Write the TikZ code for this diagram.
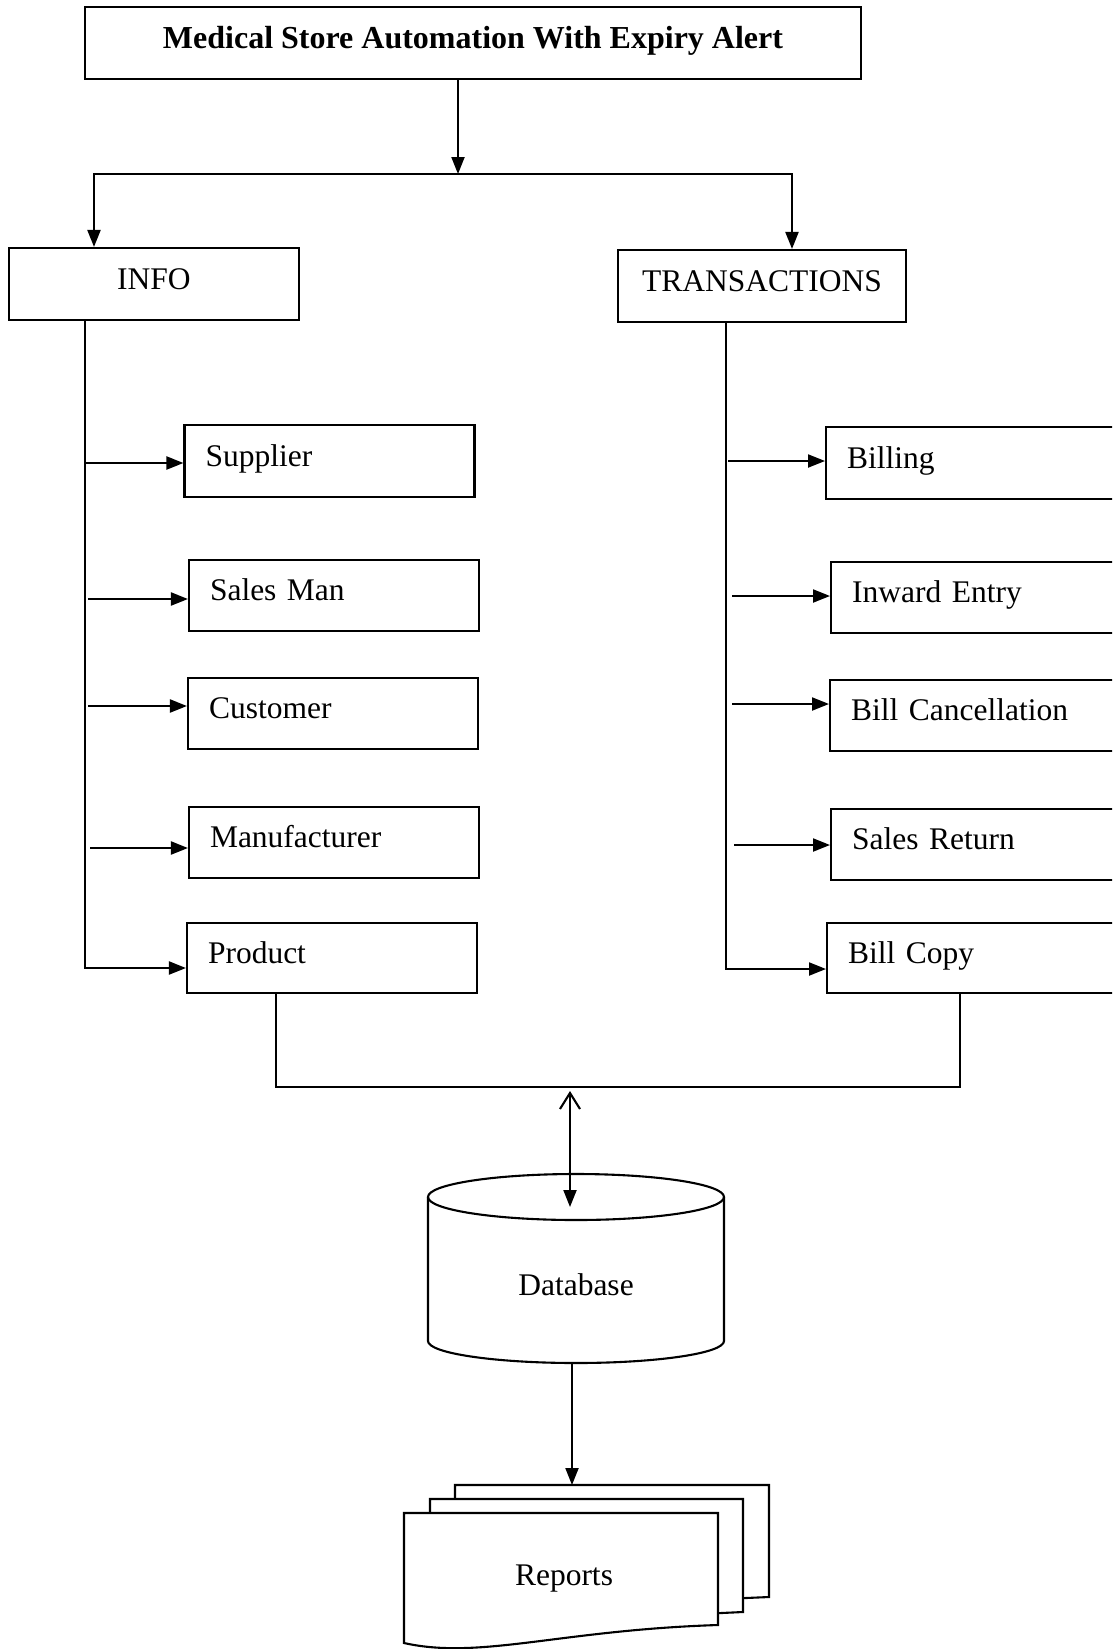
\documentclass[tikz,border=0pt]{standalone}
\usepackage{fontspec}
\setmainfont{Liberation Serif}
\usetikzlibrary{arrows.meta}
\begin{document}
\begin{tikzpicture}[x=1pt,y=-1pt,
  line width=2.1pt,
  every node/.style={font=\fontsize{31.5pt}{36pt}\selectfont},
  arr/.style={-{Triangle[length=17pt,width=13pt]}},
  lbox/.style={draw, rectangle, inner xsep=21pt, inner ysep=0pt, text width=248pt, align=left, minimum height=71pt, text height=24pt, text depth=14pt},
  rbox/.style={lbox, text width=258pt},
  cbox/.style={draw, rectangle, inner sep=0pt, align=center, text height=24pt, text depth=14pt},
  pagefill/.style={draw, fill=white}
]
\useasboundingbox (0,0) rectangle (1112,1649);
\clip (0,0) rectangle (1112,1649);

% title and branches
\node[cbox, minimum width=776pt, minimum height=72pt, font=\fontsize{32pt}{36pt}\selectfont\bfseries] (title) at (473,43) {Medical Store Automation With Expiry Alert};
\node[cbox, minimum width=290pt, minimum height=72pt] (info) at (154,284) {INFO};
\node[cbox, minimum width=288pt, minimum height=72pt] (trans) at (762,286) {TRANSACTIONS};

\coordinate (split) at (458,174);
\coordinate (bl) at (94,174);
\coordinate (br) at (792,174);
\draw[arr] (title.south -| split) -- (split);
\draw[{Triangle[length=17pt,width=13pt]}-{Triangle[length=17pt,width=13pt]}] (bl |- info.north) -- (bl) -- (br) -- (br |- trans.north);

% left boxes
\node[lbox, minimum height=72pt] (supplier) at (329.5,461) {Supplier};
\node[lbox] (salesman) at (334,595.5) {Sales Man};
\node[lbox] (customer) at (333,713.5) {Customer};
\node[lbox] (manuf) at (334,842.5) {Manufacturer};
\node[lbox, minimum height=70pt] (product) at (332,958) {Product};

% right boxes
\node[rbox, anchor=west, minimum height=72pt] (billing) at (825,463) {Billing};
\node[rbox, anchor=west] (inward) at (830,597.5) {Inward Entry};
\node[rbox, anchor=west] (cancel) at (829,715.5) {Bill Cancellation};
\node[rbox, anchor=west] (salesret) at (830,844.5) {Sales Return};
\node[rbox, anchor=west, minimum height=70pt] (billcopy) at (826,958) {Bill Copy};

% left trunk
\coordinate (pP) at (85,968);
\draw[arr] (info.south -| pP) -- (pP) -- (pP -| product.west);
\coordinate (sS) at (85,463);
\coordinate (sM) at (88,599);
\coordinate (sC) at (88,706);
\coordinate (sF) at (90,848);
\draw[arr] (sS) -- (sS -| supplier.west);
\draw[arr] (sM) -- (sM -| salesman.west);
\draw[arr] (sC) -- (sC -| customer.west);
\draw[arr] (sF) -- (sF -| manuf.west);

% right trunk
\coordinate (pB) at (726,969);
\draw[arr] (trans.south -| pB) -- (pB) -- (pB -| billcopy.west);
\coordinate (rB) at (728,461);
\coordinate (rI) at (732,596);
\coordinate (rC) at (732,704);
\coordinate (rS) at (734,845);
\draw[arr] (rB) -- (rB -| billing.west);
\draw[arr] (rI) -- (rI -| inward.west);
\draw[arr] (rC) -- (rC -| cancel.west);
\draw[arr] (rS) -- (rS -| salesret.west);

% bottom connector
\coordinate (pb) at (276,1087);
\coordinate (cb) at (960,1087);
\draw[line width=1.8pt] (product.south -| pb) -- (pb) -- (cb) -- (billcopy.south -| cb);

% database
\draw[fill=white] (428,1197) -- (428,1341) arc[start angle=180, end angle=360, x radius=148pt, y radius=22pt] -- (724,1197);
\draw (576,1197) ellipse [x radius=148pt, y radius=23pt];
\node (db) at (576,1285) {Database};
\coordinate (dbtop) at (570,1091);
\coordinate (dbin) at (570,1207);
\draw[{Straight Barb[length=16pt,width=20pt]}-{Triangle[length=17pt,width=13pt]}] (dbtop) -- (dbin);

% reports
\draw[pagefill] (455,1485) -- (769,1485) -- (769,1597) -- (700,1600) -- (455,1600) -- cycle;
\draw[pagefill] (430,1499) -- (743,1499) -- (743,1612) -- (700,1614) -- (430,1614) -- cycle;
\draw[pagefill] (404,1513) -- (718,1513) -- (718,1625) .. controls (560,1630) and (480,1660) .. (404,1643) -- cycle;
\node (reports) at (564,1579) {Reports};
\coordinate (dbout) at (572,1363);
\coordinate (repin) at (572,1485);
\draw[arr] (dbout) -- (repin);
\end{tikzpicture}
\end{document}
